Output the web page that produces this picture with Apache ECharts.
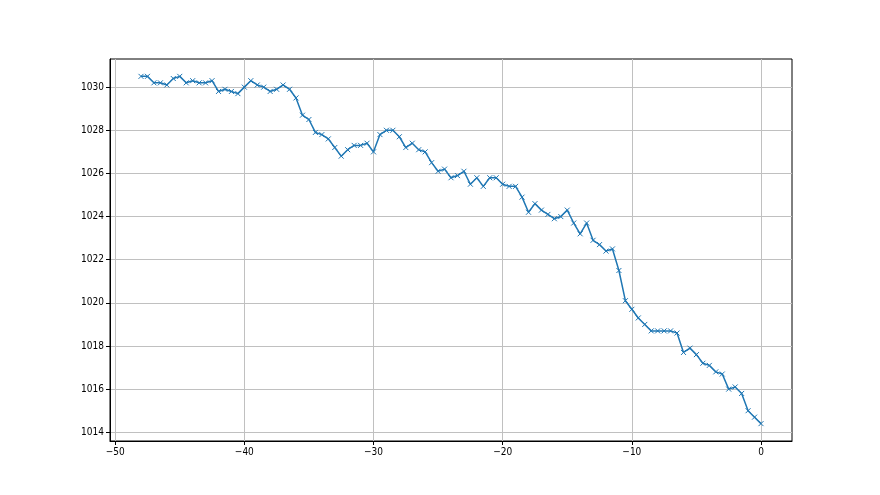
<!DOCTYPE html>
<html>
<head>
<meta charset="utf-8">
<script src="https://cdn.jsdelivr.net/npm/echarts@6/dist/echarts.min.js"></script>
<style>html,body{margin:0;padding:0;background:#fff}#c{width:880px;height:495px}</style>
</head>
<body>
<div id="c"></div>
<script>
const xValues = [
  -48,-47.5,-47,-46.5,-46,-45.5,-45,-44.5,-44,-43.5,-43,-42.5,-42,-41.5,-41,-40.5,
  -40,-39.5,-39,-38.5,-38,-37.5,-37,-36.5,-36,-35.5,-35,-34.5,-34,-33.5,-33,-32.5,
  -32,-31.5,-31,-30.5,-30,-29.5,-29,-28.5,-28,-27.5,-27,-26.5,-26,-25.5,-25,-24.5,
  -24,-23.5,-23,-22.5,-22,-21.5,-21,-20.5,-20,-19.5,-19,-18.5,-18,-17.5,-17,-16.5,
  -16,-15.5,-15,-14.5,-14,-13.5,-13,-12.5,-12,-11.5,-11,-10.5,-10,-9.5,-9,-8.5,
  -8,-7.5,-7,-6.5,-6,-5.5,-5,-4.5,-4,-3.5,-3,-2.5,-2,-1.5,-1,-0.5,0
];
const pressure = [
  1030.5,1030.5,1030.2,1030.2,1030.1,1030.4,1030.5,1030.2,1030.3,1030.2,1030.2,1030.3,1029.8,1029.9,1029.8,1029.7,
  1030.0,1030.3,1030.1,1030.0,1029.8,1029.9,1030.1,1029.9,1029.5,1028.7,1028.5,1027.9,1027.8,1027.6,1027.2,1026.8,
  1027.1,1027.3,1027.3,1027.4,1027.0,1027.8,1028.0,1028.0,1027.7,1027.2,1027.4,1027.1,1027.0,1026.5,1026.1,1026.2,
  1025.8,1025.9,1026.1,1025.5,1025.8,1025.4,1025.8,1025.8,1025.5,1025.4,1025.4,1024.9,1024.2,1024.6,1024.3,1024.1,
  1023.9,1024.0,1024.3,1023.7,1023.2,1023.7,1022.9,1022.7,1022.4,1022.5,1021.5,1020.1,1019.7,1019.3,1019.0,1018.7,
  1018.7,1018.7,1018.7,1018.6,1017.7,1017.9,1017.6,1017.2,1017.1,1016.8,1016.7,1016.0,1016.1,1015.8,1015.0,1014.7,1014.4
];
const xTicks = [-50,-40,-30,-20,-10,0];
const yTicks = [1014,1016,1018,1020,1022,1024,1026,1028,1030];

const chart = echarts.init(document.getElementById('c'), null, {renderer:'canvas'});
const labelFont = {fontFamily:'"Liberation Sans Narrow","DejaVu Sans Condensed","Liberation Sans",sans-serif', fontSize:10, color:'#000'};
chart.setOption({
  animation:false,
  backgroundColor:'#fff',
  grid:{left:110, right:88, top:59, bottom:54, show:true, borderColor:'#000', borderWidth:1, backgroundColor:'transparent'},
  xAxis:{
    type:'value', min:-50.4, max:2.4, splitNumber:5,
    axisLine:{show:true, onZero:false, lineStyle:{color:'#000', width:1}},
    axisTick:{show:true, length:4, lineStyle:{color:'#000'}, customValues:xTicks},
    axisLabel:Object.assign({margin:6, customValues:xTicks, formatter:v=>String(v).replace('-','\u2212')}, labelFont),
    splitLine:{show:true, lineStyle:{color:'#c0c0c0', width:1}}
  },
  yAxis:{
    type:'value', min:1013.595, max:1031.305, splitNumber:9, scale:true,
    axisLine:{show:true, onZero:false, lineStyle:{color:'#000', width:1}},
    axisTick:{show:true, length:4, lineStyle:{color:'#000'}, customValues:yTicks},
    axisLabel:Object.assign({margin:6, customValues:yTicks, formatter:v=>String(v)}, labelFont),
    splitLine:{show:true, lineStyle:{color:'#c0c0c0', width:1}}
  },
  series:[{
    type:'line',
    data:xValues.map((x,i)=>[x,pressure[i]]),
    symbol:'path://M0,0L10,10M10,0L0,10',
    symbolSize:5,
    showSymbol:true,
    lineStyle:{color:'#1f77b4', width:1.5},
    itemStyle:{color:'#1f77b4', borderColor:'#1f77b4', borderWidth:1},
    emphasis:{disabled:true}
  }]
});
</script>
</body>
</html>
